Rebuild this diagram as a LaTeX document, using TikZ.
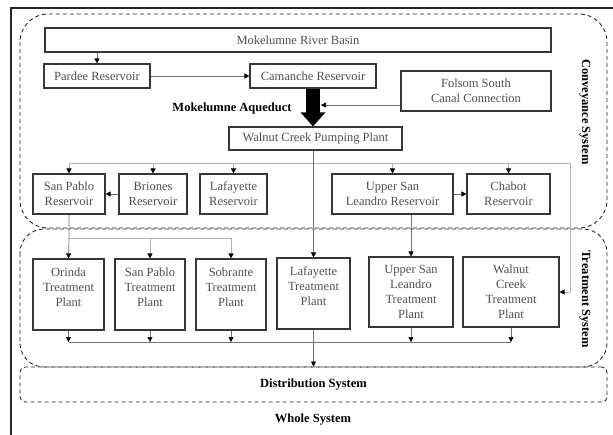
\documentclass[tikz,border=0pt]{standalone}
\usepackage{fontspec}
\setmainfont{Liberation Serif}
\usetikzlibrary{arrows.meta}
\definecolor{boxline}{RGB}{55,55,55}
\definecolor{boxtext}{RGB}{80,80,80}
\definecolor{flowline}{RGB}{115,115,115}
\definecolor{busline}{RGB}{180,180,180}

\tikzset{
  unit/.style={draw=boxline,line width=1.1pt,text=boxtext,align=center,inner sep=0pt,
    font=\fontsize{12.5}{15}\selectfont},
  flow/.style={draw=flowline,line width=0.7pt,-{Triangle[length=5pt,width=5pt,color=black]}},
  bus/.style={draw=busline,line width=0.8pt},
  region/.style={draw=black!85,line width=0.9pt,dash pattern=on 4pt off 3pt},
  label/.style={font=\fontsize{12.5}{15}\selectfont\bfseries},
  bigarrow/.style={line width=14pt,-{Triangle[length=14pt,width=24pt]}}
}

\begin{document}
\begin{tikzpicture}[x=1pt,y=-1pt]
\useasboundingbox (0,0) rectangle (613,434);
% whole system frame
\draw[line width=1.2pt,black!85] (11,440) -- (11,8) -- (620,8);
\node[label] (whole) at (313,420) {Whole System};

% regions
\draw[region,rounded corners=28pt] (20,14) rectangle (607,228);
\draw[region,rounded corners=24pt] (20,229) rectangle (607,367);
\node[region,rounded corners=5pt,minimum width=587pt,minimum height=35pt,label] (dist) at (313.5,384.5) {Distribution System};
\node[label,rotate=-90] (conv) at (585,112) {Conveyance System};
\node[label,rotate=-90] (treat) at (585,299) {Treatment System};

% conveyance
\node[unit,minimum width=506pt,minimum height=24pt] (basin) at (298,40) {Mokelumne River Basin};
\node[unit,minimum width=106pt,minimum height=24pt] (pardee) at (97,76) {Pardee Reservoir};
\node[unit,minimum width=126pt,minimum height=24pt] (camanche) at (313,76) {Camanche Reservoir};
\node[unit,minimum width=150pt,minimum height=40pt] (folsom) at (476,91) {Folsom South\\Canal Connection};
\node[unit,minimum width=173pt,minimum height=23pt] (walnut) at (315.5,138.5) {Walnut Creek Pumping Plant};
\node[label] (aqueduct) at (232,108) {Mokelumne Aqueduct};

\node[unit,minimum width=72pt,minimum height=40pt] (spres) at (69,194) {San Pablo\\Reservoir};
\node[unit,minimum width=68pt,minimum height=40pt] (briones) at (153,194) {Briones\\Reservoir};
\node[unit,minimum width=67pt,minimum height=40pt] (lafres) at (233.5,194) {Lafayette\\Reservoir};
\node[unit,minimum width=121pt,minimum height=40pt] (uslres) at (392.5,194) {Upper San\\Leandro Reservoir};
\node[unit,minimum width=83pt,minimum height=40pt] (chabot) at (508.5,194) {Chabot\\Reservoir};

% treatment
\node[unit,minimum width=71pt,minimum height=71pt] (orinda) at (68.5,294.5) {Orinda\\Treatment\\Plant\\\mbox{}};
\node[unit,minimum width=70pt,minimum height=71pt] (sptp) at (150,294.5) {San Pablo\\Treatment\\Plant\\\mbox{}};
\node[unit,minimum width=70pt,minimum height=71pt] (sobrante) at (231,294.5) {Sobrante\\Treatment\\Plant\\\mbox{}};
\node[unit,minimum width=73pt,minimum height=71pt] (laftp) at (313.5,293.5) {Lafayette\\Treatment\\Plant\\\mbox{}};
\node[unit,minimum width=84pt,minimum height=70pt] (usltp) at (411,292) {Upper San\\Leandro\\Treatment\\Plant};
\node[unit,minimum width=96pt,minimum height=70pt] (wctp) at (511,292) {Walnut\\Creek\\Treatment\\Plant};

\coordinate (aqside) at (321,105);
\coordinate (busleft) at (69,163);
\coordinate (busright) at (570,163);
\coordinate (spsplit) at (69,238);
\coordinate (collect) at (69,342);

% connectors
\draw[flow] (pardee.north |- basin.south) -- (pardee.north);
\draw[flow] (pardee) -- (camanche);
\draw[bigarrow] (camanche.south) -- (camanche.south |- walnut.north);
\draw[flow] (folsom.west |- aqside) -- (aqside);

\draw[bus] (busleft) -- (busright) -- (busright |- wctp.east);
\draw[flow,draw=busline] (busright |- wctp.east) -- (wctp.east);
\foreach \n in {spres,briones,lafres,uslres,chabot}
  \draw[flow,draw=busline] (\n.north |- busleft) -- (\n.north);
\draw[flow] (briones) -- (spres);
\draw[flow] (uslres) -- (chabot);

\draw[flow] (walnut.south -| laftp.north) -- (laftp.north);
\draw[flow] (spres.south) -- (spsplit) -- (orinda.north);
\draw[flow,draw=busline] (spsplit) -| (sptp.north);
\draw[flow,draw=busline] (spsplit) -| (sobrante.north);
\draw[flow] (uslres.south -| usltp.north) -- (usltp.north);

\draw[draw=flowline,line width=0.7pt] (collect) -- (collect -| wctp.south);
\foreach \n in {orinda,sptp,sobrante,usltp,wctp}
  \draw[flow] (\n.south) -- (\n.south |- collect);
\draw[flow] (laftp.south) -- (laftp.south |- dist.north);
\end{tikzpicture}
\end{document}
